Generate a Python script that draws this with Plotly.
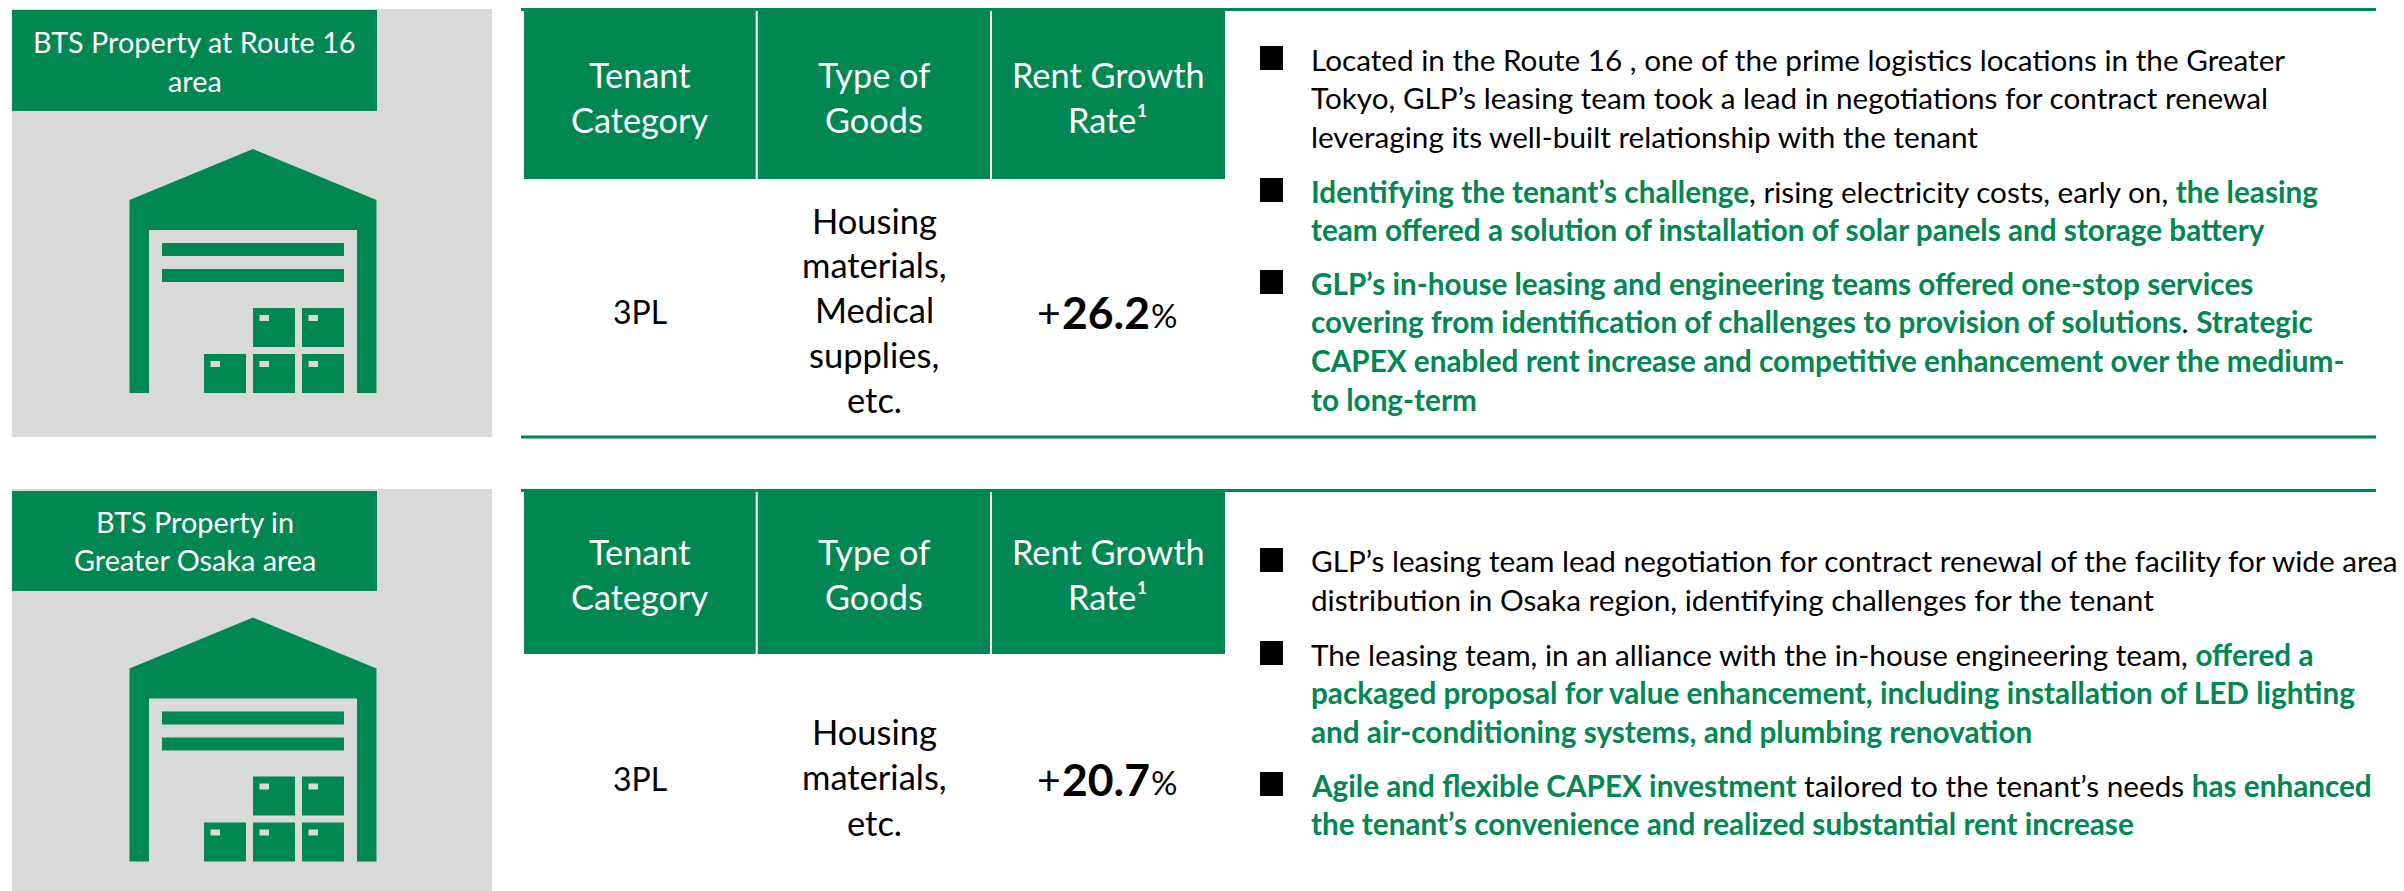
import plotly.graph_objects as go

GREEN = "#008752"
GRAY = "#D9D9D9"
FONT = "Lato, Carlito, Calibri, sans-serif"
W, H = 2404, 891

def g(s):
    return f'<span style="color:{GREEN}"><b>{s}</b></span>'

# ---- content ----
panel_titles = [["BTS Property at Route 16", "area"],
                ["BTS Property in", "Greater Osaka area"]]
headers = [["Tenant", "Category"], ["Type of", "Goods"], ["Rent Growth", "Rate¹"]]
tenant_categories = ["3PL", "3PL"]
goods_types = [["Housing", "materials,", "Medical", "supplies,", "etc."],
               ["Housing", "materials,", "etc."]]
rent_growth = ["26.2", "20.7"]
bullets_top = [
    ["Located in the Route 16 , one of the prime logistics locations in the Greater",
     "Tokyo, GLP’s leasing team took a lead in negotiations for contract renewal",
     "leveraging its well-built relationship with the tenant"],
    [g("Identifying the tenant’s challenge") + ", rising electricity costs, early on, " + g("the leasing"),
     g("team offered a solution of installation of solar panels and storage battery")],
    [g("GLP’s in-house leasing and engineering teams offered one-stop services"),
     g("covering from identification of challenges to provision of solutions") + ". " + g("Strategic"),
     g("CAPEX enabled rent increase and competitive enhancement over the medium-"),
     g("to long-term")],
]
bullets_bottom = [
    ["GLP’s leasing team lead negotiation for contract renewal of the facility for wide area",
     "distribution in Osaka region, identifying challenges for the tenant"],
    ["The leasing team, in an alliance with the in-house engineering team, " + g("offered a"),
     g("packaged proposal for value enhancement, including installation of LED lighting"),
     g("and air-conditioning systems, and plumbing renovation")],
    [g("Agile and flexible CAPEX investment") + " tailored to the tenant’s needs " + g("has enhanced"),
     g("the tenant’s convenience and realized substantial rent increase")],
]

# ---- layout positions ----
shapes, notes = [], []

def rect(x0, y0, x1, y1, color):
    shapes.append(dict(type="rect", x0=x0, y0=y0, x1=x1, y1=y1, xref="x", yref="y",
                       fillcolor=color, line_width=0, layer="below"))

def text(x, y, s, size, color="#000000", anchor="center"):
    notes.append(dict(x=x, y=y-1.5, text=s, xref="x", yref="y", showarrow=False,
                      xanchor=anchor, yanchor="middle", align=anchor,
                      font=dict(family=FONT, size=size, color=color)))

def house(dy):
    shapes.append(dict(type="path", xref="x", yref="y", fillcolor=GREEN, line_width=0, layer="below",
        path=(f"M253,{149+dy} L376.5,{200+dy} L376.5,{393+dy} L357,{393+dy} L357,{230+dy} "
              f"L149,{230+dy} L149,{393+dy} L129.5,{393+dy} L129.5,{200+dy} Z")))
    rect(162, 243+dy, 344, 256+dy, GREEN)
    rect(162, 269+dy, 344, 282+dy, GREEN)
    for bx, by in [(253, 308), (302, 308), (204, 354), (253, 354), (302, 354)]:
        rect(bx, by+dy, bx+42, by+39+dy, GREEN)
        rect(bx+6.5, by+7+dy, bx+16, by+13+dy, GRAY)

panels = [
    dict(gray=(9, 437), title=(10, 111), title_y=[43, 82], dy=0, line_top=9.5, line_bot=437,
         head=(11, 179), head_y=[76, 121], cat_y=313, goods_y=[222, 266, 311, 356, 401], rate_y=312.5,
         bullets=bullets_top, bullet_y=[46, 178, 270],
         line_y=[[61, 99, 138], [193, 231], [285, 323, 362, 401]]),
    dict(gray=(489, 891), title=(491, 591), title_y=[523, 561], dy=468.5, line_top=490.5, line_bot=None,
         head=(492, 654), head_y=[553, 598], cat_y=780, goods_y=[733, 778, 824], rate_y=779.5,
         bullets=bullets_bottom, bullet_y=[548, 641, 772],
         line_y=[[562, 601], [656, 694, 733], [787, 825]]),
]
col_x = [640, 874, 1108]

for i, p in enumerate(panels):
    rect(12, p["gray"][0], 492, p["gray"][1], GRAY)
    rect(12, p["title"][0], 377, p["title"][1], GREEN)
    for s, y in zip(panel_titles[i], p["title_y"]):
        text(194.5, y, s, 28.8, "#FFFFFF")
    house(p["dy"])
    rect(521, p["line_top"]-1.5, 2376, p["line_top"]+1.5, GREEN)
    if p["line_bot"]:
        rect(521, p["line_bot"]-1.5, 2376, p["line_bot"]+1.5, GREEN)
    rect(524, p["head"][0], 1225, p["head"][1], GREEN)
    rect(755.7, p["head"][0], 757.7, p["head"][1], "#FFFFFF")
    rect(990, p["head"][0], 992, p["head"][1], "#FFFFFF")
    for cx, h in zip(col_x, headers):
        for s, y in zip(h, p["head_y"]):
            text(cx, y, s, 34.3, "#FFFFFF")
    text(col_x[0], p["cat_y"], tenant_categories[i], 32)
    for s, y in zip(goods_types[i], p["goods_y"]):
        text(col_x[1], y, s, 34.5)
    text(1063, p["rate_y"]+1, "+", 41, anchor="right")
    text(1106, p["rate_y"], f"<b>{rent_growth[i]}</b>", 44.5)
    text(1149, p["rate_y"]+3.5, "%", 33, anchor="left")
    for by, ys, lines in zip(p["bullet_y"], p["line_y"], p["bullets"]):
        rect(1260, by, 1283, by+24, "#000000")
        for y, s in zip(ys, lines):
            text(1309, y, s, 29.7, anchor="left")

fig = go.Figure()
fig.update_layout(
    width=W, height=H, margin=dict(l=0, r=0, t=0, b=0),
    paper_bgcolor="#FFFFFF", plot_bgcolor="#FFFFFF", showlegend=False,
    xaxis=dict(range=[0, W], visible=False, fixedrange=True),
    yaxis=dict(range=[H, 0], visible=False, fixedrange=True),
    shapes=shapes, annotations=notes,
)
fig.write_html("out.html", config=dict(displayModeBar=False),
               post_script="document.body.style.margin='0';document.documentElement.style.overflow='hidden';")
